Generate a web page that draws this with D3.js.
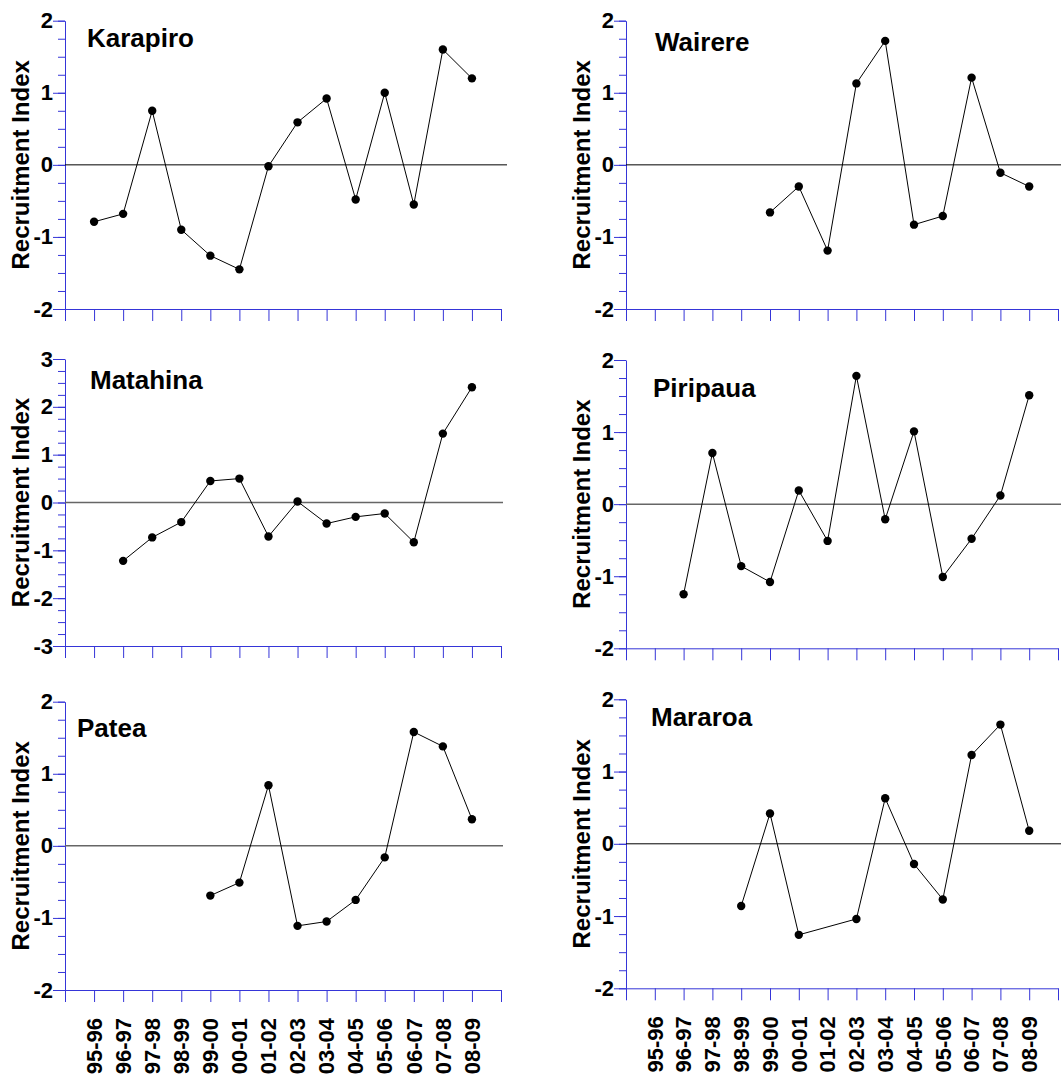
<!DOCTYPE html>
<html>
<head>
<meta charset="utf-8">
<script src="https://cdn.jsdelivr.net/npm/d3@7"></script>
<style>
  body { margin: 0; background: #fff; }
  text { font-family: Arial, "Liberation Sans", sans-serif; font-weight: bold; fill: #000; }
</style>
</head>
<body>
<svg width="1061" height="1084"></svg>
<script>
// seasons on the x axis (positions 1..14, ticks run 0..15)
const seasons = ['95-96','96-97','97-98','98-99','99-00','00-01','01-02',
                 '02-03','03-04','04-05','05-06','06-07','07-08','08-09'];

// recruitment index per site, null = no sample that season
const karapiro = [-0.79,-0.68,0.75,-0.90,-1.26,-1.45,-0.02,0.59,0.92,-0.48,1.00,-0.55,1.60,1.20];
const wairere  = [null,null,null,null,-0.66,-0.30,-1.19,1.13,1.72,-0.83,-0.71,1.21,-0.11,-0.30];
const matahina = [null,-1.22,-0.73,-0.41,0.45,0.50,-0.71,0.02,-0.44,-0.30,-0.23,-0.83,1.44,2.41];
const piripaua = [null,-1.25,0.71,-0.86,-1.08,0.19,-0.51,1.78,-0.21,1.01,-1.01,-0.48,0.12,1.51];
const patea    = [null,null,null,null,-0.69,-0.51,0.84,-1.11,-1.05,-0.75,-0.16,1.58,1.38,0.37];
const mararoa  = [null,null,null,-0.86,0.42,-1.26,null,-1.04,0.63,-0.28,-0.77,1.23,1.65,0.18];

const yLabel = 'Recruitment Index';
const axisBlue = '#3535d8';

const svg = d3.select('svg');

// one entry per panel: where it sits and how it looks
const panels = [
  { name: 'Karapiro', values: karapiro, yMax: 2, x0: 65,  x1: 501,  top: 20.7,  bottom: 309,   tx: 22, ty: 26, zc: '#000', zw: 1,   zEnd: 507,  labels: false },
  { name: 'Wairere',  values: wairere,  yMax: 2, x0: 626, x1: 1058, top: 20.7,  bottom: 309,   tx: 29, ty: 30, zc: '#000', zw: 1,   zEnd: 1061, labels: false },
  { name: 'Matahina', values: matahina, yMax: 3, x0: 65,  x1: 501,  top: 359,   bottom: 646,   tx: 25, ty: 30, zc: '#666', zw: 1.5, zEnd: 503,  labels: false },
  { name: 'Piripaua', values: piripaua, yMax: 2, x0: 626, x1: 1058, top: 360,   bottom: 648.3, tx: 27, ty: 37, zc: '#666', zw: 1.5, zEnd: 1061, labels: false },
  { name: 'Patea',    values: patea,    yMax: 2, x0: 65,  x1: 501,  top: 701.7, bottom: 990,   tx: 12, ty: 35, zc: '#666', zw: 1.5, zEnd: 503,  labels: true },
  { name: 'Mararoa',  values: mararoa,  yMax: 2, x0: 626, x1: 1058, top: 699.3, bottom: 988.3, tx: 25, ty: 27, zc: '#000', zw: 1,   zEnd: 1061, labels: true }
];

panels.forEach(p => {
  const x = d3.scaleLinear().domain([0, 15]).range([p.x0, p.x1]);
  const y = d3.scaleLinear().domain([-p.yMax, p.yMax]).range([p.bottom, p.top]);
  const g = svg.append('g');

  // minor y ticks every 0.25
  const minor = d3.range(-p.yMax, p.yMax + 0.001, 0.25);
  const minorG = g.append('g')
    .attr('transform', `translate(${p.x0},0)`)
    .call(d3.axisLeft(y).tickValues(minor).tickFormat('').tickSize(7).tickSizeOuter(0));
  minorG.select('.domain').remove();

  // major y ticks + labels (plain hyphen for negatives, like the original)
  const majorG = g.append('g')
    .attr('transform', `translate(${p.x0},0)`)
    .call(d3.axisLeft(y).tickValues(d3.range(-p.yMax, p.yMax + 1, 1))
      .tickFormat(d => String(d)).tickSize(12).tickPadding(0).tickSizeOuter(0));
  majorG.selectAll('text').style('font-size', '22px');

  // x axis ticks
  const xG = g.append('g')
    .attr('transform', `translate(0,${p.bottom})`)
    .call(d3.axisBottom(x).tickValues(d3.range(0, 16)).tickFormat('').tickSize(12).tickSizeOuter(0));

  [minorG, majorG, xG].forEach(a => {
    a.attr('font-size', null).attr('font-family', null);
    a.selectAll('line, path').attr('stroke', axisBlue);
  });

  if (p.labels) {
    g.selectAll('.xlab').data(seasons).enter().append('text')
      .attr('class', 'xlab')
      .attr('transform', (d, i) => `translate(${x(i + 1)},${p.bottom + 28}) rotate(-90)`)
      .attr('text-anchor', 'end')
      .attr('dy', '0.35em')
      .style('font-size', '22px')
      .text(d => d);
  }

  // zero line
  g.append('line')
    .attr('x1', p.x0).attr('x2', p.zEnd)
    .attr('y1', y(0)).attr('y2', y(0))
    .attr('stroke', p.zc).attr('stroke-width', p.zw);

  const pts = p.values.map((v, i) => ({ i: i + 1, v })).filter(d => d.v !== null);

  g.append('path')
    .datum(pts)
    .attr('fill', 'none')
    .attr('stroke', '#000')
    .attr('stroke-width', 1)
    .attr('d', d3.line().x(d => x(d.i)).y(d => y(d.v)));

  g.selectAll('circle').data(pts).enter().append('circle')
    .attr('cx', d => x(d.i))
    .attr('cy', d => y(d.v))
    .attr('r', 4.2)
    .attr('fill', '#000');

  // site name
  g.append('text')
    .attr('x', p.x0 + p.tx)
    .attr('y', p.top + p.ty)
    .style('font-size', '26px')
    .text(p.name);

  // y axis title
  g.append('text')
    .attr('transform', `translate(${p.x0 - 44},${(p.top + p.bottom) / 2}) rotate(-90)`)
    .attr('text-anchor', 'middle')
    .attr('dy', '0.35em')
    .style('font-size', '24px')
    .text(yLabel);
});
</script>
</body>
</html>
